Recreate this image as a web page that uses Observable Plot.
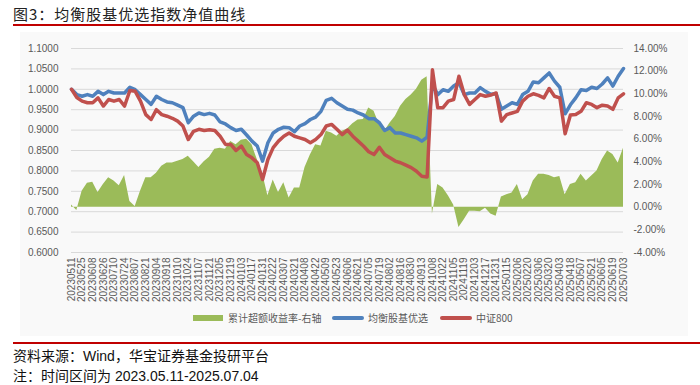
<!DOCTYPE html>
<html><head><meta charset="utf-8">
<script src="https://cdn.jsdelivr.net/npm/d3@7"></script>
<script src="https://cdn.jsdelivr.net/npm/@observablehq/plot@0.6"></script>
<style>
body{margin:0;width:700px;height:385px;background:#fff;position:relative;overflow:hidden;font-family:"Liberation Sans","Noto Sans CJK SC",sans-serif}
#bg{position:absolute;left:20px;top:32px;width:668px;height:304px;background:#F9F9F9}
#title{position:absolute;left:13px;top:4px;font-size:15px;line-height:20px;color:#222;font-family:"Noto Sans CJK SC",sans-serif;letter-spacing:1px}
.rule{position:absolute;left:13px;right:0;height:2px;background:#C00000}
#chart{position:absolute;left:0;top:33px}
.leg{position:absolute;font-size:10px;line-height:14px;color:#595959;font-family:"Noto Sans CJK SC",sans-serif}
.sw{position:absolute}
.foot{position:absolute;left:13px;font-size:14px;line-height:18px;color:#111;font-family:"Liberation Sans","Noto Sans CJK SC",sans-serif}
</style></head><body>
<div id="bg"></div>
<div id="title">图3：均衡股基优选指数净值曲线</div>
<div class="rule" style="top:24px"></div>
<div id="chart"></div>
<div id="legend"></div>
<div class="rule" style="top:342px"></div>
<div class="foot" style="top:347px">资料来源：Wind，华宝证券基金投研平台</div>
<div class="foot" style="top:367px">注：时间区间为 2023.05.11-2025.07.04</div>
<script>
const tickLabels = ["20230511","20230525","20230608","20230626","20230710","20230724","20230807","20230821","20230904","20230918","20231010","20231024","20231107","20231121","20231205","20231219","20240103","20240117","20240131","20240222","20240307","20240321","20240408","20240422","20240509","20240523","20240606","20240621","20240705","20240719","20240802","20240816","20240830","20240913","20241008","20241022","20241105","20241119","20241203","20241217","20241231","20250115","20250206","20250220","20250306","20250320","20250403","20250418","20250507","20250521","20250605","20250619","20250703"];

// values sampled every half tick interval (about 5 trading days)
const balanced = [1.000,0.987,0.983,0.987,0.983,0.995,0.987,0.995,0.991,0.991,0.991,1.005,0.999,0.987,0.975,0.963,0.983,0.975,0.969,0.967,0.961,0.955,0.918,0.934,0.942,0.938,0.941,0.937,0.920,0.915,0.906,0.899,0.902,0.888,0.873,0.861,0.824,0.869,0.893,0.902,0.907,0.906,0.896,0.910,0.916,0.926,0.932,0.946,0.973,0.978,0.967,0.959,0.951,0.949,0.942,0.937,0.928,0.928,0.918,0.899,0.906,0.893,0.893,0.889,0.885,0.881,0.873,0.883,1.012,0.987,0.999,0.995,1.008,1.016,0.987,0.991,0.991,1.004,0.995,0.988,0.989,0.951,0.959,0.967,0.963,0.987,0.995,1.018,1.016,1.028,1.040,1.020,1.005,0.940,0.962,0.979,0.999,0.997,1.005,1.002,1.013,1.028,1.008,1.032,1.051];
const csi800 = [1.000,0.980,0.971,0.967,0.967,0.979,0.959,0.975,0.971,0.975,0.959,0.997,0.995,0.971,0.938,0.926,0.950,0.938,0.934,0.929,0.922,0.910,0.877,0.897,0.902,0.899,0.901,0.899,0.885,0.865,0.865,0.850,0.861,0.840,0.832,0.820,0.779,0.828,0.857,0.873,0.885,0.893,0.885,0.881,0.877,0.869,0.877,0.889,0.910,0.914,0.902,0.889,0.900,0.885,0.873,0.861,0.847,0.840,0.858,0.840,0.832,0.824,0.820,0.814,0.808,0.799,0.787,0.785,1.048,0.955,0.955,0.971,0.975,1.032,0.987,0.963,0.975,0.987,0.983,0.986,0.991,0.922,0.938,0.942,0.946,0.971,0.983,0.989,0.985,0.979,1.002,0.983,0.979,0.891,0.937,0.938,0.946,0.967,0.963,0.955,0.961,0.959,0.951,0.979,0.989];
const excessPct = [0.2,-0.3,1.4,2.1,2.2,1.3,2.0,2.6,2.3,1.9,2.8,0.5,0.05,1.4,2.6,2.6,3.0,3.6,3.9,3.9,4.05,4.2,4.5,4.0,3.5,4.0,4.4,5.1,5.2,5.1,5.8,5.5,5.9,6.0,5.5,4.2,3.0,1.0,2.4,1.3,2.15,0.8,1.7,1.7,3.5,4.6,5.5,5.4,6.7,6.55,6.25,6.7,6.9,7.35,7.7,7.74,8.76,8.47,7.3,6.7,7.4,8.0,8.9,9.5,9.9,10.4,11.2,11.5,-0.6,2.0,1.7,1.0,0.2,-1.8,-1.1,-0.35,-0.35,-0.4,-0.1,-0.6,-0.8,0.9,1.1,1.25,2.0,0.65,1.1,2.3,2.9,2.9,2.8,2.6,2.7,1.1,2.0,2.15,2.9,2.3,2.75,3.2,4.2,4.95,4.65,3.9,5.2];

const leftTicks = [0.60,0.65,0.70,0.75,0.80,0.85,0.90,0.95,1.00,1.05,1.10];
const rightTicks = [-4,-2,0,2,4,6,8,10,12,14];
const seriesNames = ["累计超额收益率-右轴","均衡股基优选","中证800"];
const seriesColors = ["#9BBB59","#4F81BD","#C0504D"];

// map right-axis percent onto the left-axis domain
const toLeft = p => 0.6 + (p + 4) / 36;
const fromLeft = v => Math.round((v - 0.6) * 36 - 4);

const rows = balanced.map((b, k) => ({x: k / 2, blue: b, red: csi800[k], ex: excessPct[k]}));

const chart = Plot.plot({
  width: 700, height: 270,
  marginTop: 15, marginBottom: 51, marginLeft: 71, marginRight: 77,
  style: {background: "transparent", fontSize: "10px", color: "#595959", fontFamily: "'Liberation Sans', Arial, sans-serif"},
  x: {domain: [0, tickLabels.length - 1]},
  y: {domain: [0.6, 1.1]},
  marks: [
    Plot.gridY(leftTicks, {stroke: "#D9D9D9", strokeOpacity: 1, strokeWidth: 1}),
    Plot.areaY(rows, {x: "x", y1: d => toLeft(0), y2: d => toLeft(d.ex), fill: seriesColors[0], curve: "linear"}),
    Plot.lineY(rows, {x: "x", y: "blue", stroke: seriesColors[1], strokeWidth: 3.5, strokeLinejoin: "round"}),
    Plot.lineY(rows, {x: "x", y: "red", stroke: seriesColors[2], strokeWidth: 3.5, strokeLinejoin: "round"}),
    Plot.axisY(leftTicks, {anchor: "left", tickSize: 0, tickPadding: 13, tickFormat: d => d.toFixed(4), label: null}),
    Plot.axisY(rightTicks.map(toLeft), {anchor: "right", tickSize: 0, tickPadding: 10, tickFormat: d => fromLeft(d).toFixed(2) + "%", label: null}),
    Plot.axisX(d3.range(tickLabels.length), {anchor: "bottom", tickSize: 0, tickPadding: 5, tickRotate: -90, tickFormat: i => tickLabels[i], label: null})
  ]
});
document.getElementById("chart").appendChild(chart);

// legend
const leg = document.getElementById("legend");
const legPos = [{sx: 193, w: 30, h: 6, tx: 228}, {sx: 332, w: 32, h: 3.5, tx: 368}, {sx: 440, w: 32, h: 3.5, tx: 476}];
seriesNames.forEach((name, i) => {
  const p = legPos[i];
  const s = document.createElement("div");
  s.className = "sw";
  s.style.cssText = `left:${p.sx}px;top:${318 - p.h / 2}px;width:${p.w}px;height:${p.h}px;background:${seriesColors[i]};border-radius:${i ? 2 : 0}px`;
  leg.appendChild(s);
  const t = document.createElement("div");
  t.className = "leg";
  t.style.cssText = `left:${p.tx}px;top:311px`;
  t.textContent = name;
  leg.appendChild(t);
});
</script>
</body></html>
